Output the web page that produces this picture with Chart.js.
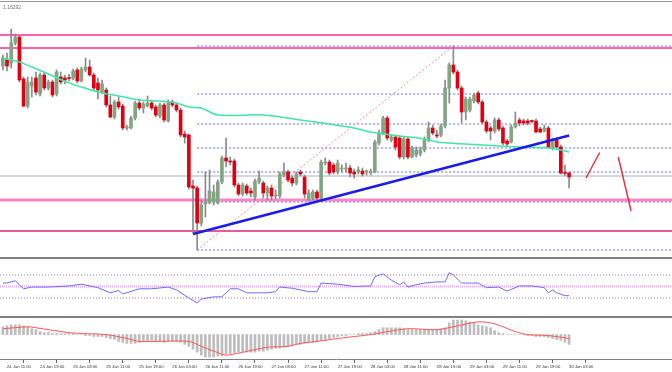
<!DOCTYPE html>
<html>
<head>
<meta charset="utf-8">
<script src="https://cdn.jsdelivr.net/npm/chart.js@4/dist/chart.umd.min.js"></script>
<style>
  html, body { margin: 0; padding: 0; background: #fff; }
  #wrap { position: relative; width: 672px; height: 372px; overflow: hidden; }
  .pane { position: absolute; left: 0; width: 672px; }
  .sep { position: absolute; left: 0; width: 672px; background: #7f7f7f; }
  #title { position: absolute; left: 3px; top: 4px; font: 5px "Liberation Sans", Arial, sans-serif; color: #777; }
</style>
</head>
<body>
<div id="wrap">
  <div class="sep" style="top:1px;height:1px;background:#999"></div>
  <div class="pane" style="top:2px;height:255px"><canvas id="main"></canvas></div>
  <div class="sep" style="top:257px;height:2px"></div>
  <div class="pane" style="top:259px;height:57px"><canvas id="rsi"></canvas></div>
  <div class="sep" style="top:316px;height:2px"></div>
  <div class="pane" style="top:318px;height:52px"><canvas id="macd"></canvas></div>
  <div id="title">1.16292</div>
</div>
<script>
// H1 candles, bar 0 = 24 Jan 10:00 ... bar 137 = 30 Jan 03:00
const open = [
  1.1584,1.1590,1.1587,1.1607,1.1613,1.1571,1.1544,1.1564,1.1572,1.1556,
  1.1575,1.1562,1.1568,1.1556,1.1573,1.1572,1.1572,1.1572,1.1580,1.1569,
  1.1580,1.1583,1.1575,1.1567,1.1558,1.1560,1.1545,1.1533,1.1548,1.1544,
  1.1522,1.1522,1.1532,1.1547,1.1542,1.1544,1.1547,1.1543,1.1534,1.1545,
  1.1529,1.1548,1.1545,1.1540,1.1516,1.1515,1.1464,1.1462,1.1427,1.1446,
  1.1447,1.1448,1.1447,1.1468,1.1492,1.1489,1.1489,1.1465,1.1456,1.1464,
  1.1459,1.1453,1.1468,1.1467,1.1457,1.1462,1.1454,1.1454,1.1475,1.1478,
  1.1472,1.1467,1.1478,1.1473,1.1450,1.1452,1.1458,1.1452,1.1487,1.1488,
  1.1485,1.1478,1.1481,1.1481,1.1482,1.1478,1.1478,1.1479,1.1478,1.1477,
  1.1478,1.1507,1.1517,1.1532,1.1510,1.1513,1.1512,1.1493,1.1511,1.1493,
  1.1495,1.1496,1.1500,1.1510,1.1522,1.1515,1.1515,1.1524,1.1562,1.1585,
  1.1578,1.1562,1.1538,1.1540,1.1549,1.1557,1.1548,1.1528,1.1522,1.1519,
  1.1530,1.1522,1.1509,1.1508,1.1523,1.1530,1.1529,1.1529,1.1529,1.1529,
  1.1521,1.1519,1.1522,1.1502,1.1510,1.1503,1.1477,1.1477
];
const high = [
  1.1595,1.1597,1.1621,1.1616,1.1614,1.1573,1.1573,1.1573,1.1578,1.1577,
  1.1578,1.1570,1.1570,1.1580,1.1578,1.1575,1.1576,1.1581,1.1582,1.1583,
  1.1592,1.1590,1.1577,1.1572,1.1570,1.1562,1.1554,1.1550,1.1553,1.1546,
  1.1525,1.1534,1.1549,1.1551,1.1548,1.1554,1.1550,1.1545,1.1547,1.1547,
  1.1550,1.1550,1.1547,1.1542,1.1519,1.1516,1.1470,1.1464,1.1450,1.1478,
  1.1480,1.1465,1.1470,1.1494,1.1512,1.1493,1.1491,1.1467,1.1467,1.1466,
  1.1462,1.1471,1.1479,1.1469,1.1464,1.1465,1.1460,1.1478,1.1487,1.1480,
  1.1474,1.1478,1.1480,1.1475,1.1460,1.1460,1.1460,1.1490,1.1492,1.1490,
  1.1487,1.1490,1.1485,1.1487,1.1485,1.1481,1.1483,1.1482,1.1480,1.1481,
  1.1510,1.1520,1.1534,1.1534,1.1515,1.1515,1.1514,1.1513,1.1513,1.1504,
  1.1503,1.1503,1.1513,1.1528,1.1525,1.1520,1.1526,1.1570,1.1587,1.1604,
  1.1580,1.1564,1.1553,1.1553,1.1557,1.1559,1.1550,1.1530,1.1524,1.1532,
  1.1532,1.1524,1.1511,1.1525,1.1538,1.1532,1.1531,1.1531,1.1530,1.1531,
  1.1523,1.1525,1.1524,1.1512,1.1512,1.1505,1.1485,1.1478
];
const low = [
  1.1580,1.1579,1.1582,1.1605,1.1568,1.1543,1.1542,1.1553,1.1555,1.1554,
  1.1560,1.1560,1.1553,1.1554,1.1566,1.1566,1.1569,1.1570,1.1567,1.1568,
  1.1578,1.1574,1.1560,1.1551,1.1556,1.1543,1.1532,1.1531,1.1541,1.1520,
  1.1520,1.1521,1.1530,1.1540,1.1537,1.1543,1.1540,1.1533,1.1532,1.1528,
  1.1528,1.1543,1.1538,1.1513,1.1507,1.1461,1.1417,1.1400,1.1424,1.1433,
  1.1446,1.1445,1.1446,1.1466,1.1483,1.1485,1.1463,1.1454,1.1454,1.1455,
  1.1453,1.1450,1.1466,1.1452,1.1450,1.1450,1.1451,1.1452,1.1473,1.1468,
  1.1464,1.1465,1.1474,1.1452,1.1449,1.1450,1.1450,1.1450,1.1485,1.1475,
  1.1476,1.1476,1.1478,1.1478,1.1473,1.1472,1.1476,1.1474,1.1475,1.1475,
  1.1477,1.1505,1.1515,1.1510,1.1508,1.1500,1.1491,1.1491,1.1491,1.1492,
  1.1493,1.1494,1.1498,1.1508,1.1515,1.1512,1.1513,1.1522,1.1547,1.1576,
  1.1560,1.1527,1.1530,1.1538,1.1547,1.1546,1.1526,1.1517,1.1510,1.1517,
  1.1519,1.1505,1.1504,1.1507,1.1522,1.1524,1.1525,1.1525,1.1527,1.1517,
  1.1517,1.1518,1.1502,1.1500,1.1502,1.1476,1.1474,1.1462
];
const close = [
  1.1592,1.1584,1.1607,1.1613,1.1570,1.1544,1.1568,1.1568,1.1558,1.1575,
  1.1562,1.1568,1.1555,1.1578,1.1568,1.1570,1.15715,1.1579,1.1569,1.1581,
  1.1583,1.1575,1.1562,1.1560,1.1566,1.1545,1.1533,1.1548,1.1543,1.1522,
  1.1523,1.1532,1.1547,1.1542,1.1546,1.1547,1.1542,1.1535,1.1545,1.1530,
  1.1548,1.1545,1.1540,1.1515,1.1513,1.1463,1.1462,1.1427,1.1445,1.1448,
  1.1459,1.1458,1.1468,1.1492,1.1489,1.1488,1.1465,1.1456,1.1465,1.1457,
  1.1457,1.1469,1.1472,1.1457,1.1462,1.1454,1.1455,1.1476,1.1478,1.1470,
  1.1467,1.1476,1.1476,1.1456,1.1457,1.1458,1.1452,1.1488,1.1488,1.1477,
  1.1478,1.1487,1.1481,1.1481,1.1477,1.1476,1.1480,1.1476,1.1478,1.1479,
  1.1508,1.1517,1.1532,1.1512,1.1513,1.1503,1.1493,1.1511,1.1493,1.1502,
  1.1500,1.1500,1.1510,1.1522,1.1517,1.1514,1.1524,1.1562,1.1585,1.1578,
  1.1562,1.1538,1.1551,1.1551,1.1555,1.1548,1.1528,1.1519,1.1519,1.1530,
  1.1521,1.1507,1.1506,1.1523,1.1527,1.1527,1.1527,1.1527,1.15285,1.1518,
  1.1518,1.1522,1.1503,1.1510,1.1503,1.1477,1.14765,1.1473
];

// moving average, read at a few bars
const maBars = [0, 4, 7, 11, 16, 19, 23, 28, 33, 38, 42, 45, 48, 52, 63, 72, 79, 85, 89, 96, 102, 105, 120, 127, 132, 135, 137];
const maValues = [1.1592,1.1588,1.1583,1.1576,1.1567,1.1563,1.1558,1.1554,1.1550,1.1549,1.1547,1.1543,1.1542,1.1535,1.1535,1.1530,1.1526,1.1522,1.1518,1.1514,1.1511,1.1508,1.1504,1.1503,1.1502,1.1500,1.1498];

// drawn objects
const resistanceLevels = [1.1615, 1.1602];
const supportZone = 1.1450;
const supportLow = 1.1419;
const lastPriceLevel = 1.1474;
const fibStartBar = 47;
const fibLevels = [1.1604, 1.1556, 1.1526, 1.1502, 1.1478, 1.1448, 1.1400];
const fibDiagonal = [[47, 1.1400], [109, 1.1604]];
const trendLine = [[46, 1.1416], [137, 1.15145]];
const arrowUp = [[141.1, 1.1472], [144.4, 1.14975]];
const arrowDown = [[148.9, 1.1493], [152, 1.1439]];

// RSI
const rsiBars = [0,1,3,5,7,11,16,19,23,26,28,29,33,36,40,42,45,47,48,51,53,55,57,59,64,66,67,70,74,76,77,81,85,89,90,92,94,96,97,98,100,102,105,107,108,109,111,115,117,120,122,125,128,131,132,133,134,136,137];
const rsiValues = [56,56,60,46,49,49,51,54,48,39,43,37,46,46,49,44,30,21.5,28,32,32,46,46,39,39,41,49,47,41,41,56,54,50,51,67,72,61,53,58,49,53,56,58,58,74,70,56,56,48,49,42,51,51,48,39,44,39,34,34];
const rsiLevels = [70, 50, 30];

// MACD (in pips)
const macdHist = [
  8,9,10,10,10,9,8,6,5,3,
  2,2,1,1,1,1,1,1,0,0,
  -1,-1,-2,-2,-2,-3,-4,-5,-7,-8,
  -9,-9,-9,-8,-7,-7,-6,-7,-7,-8,
  -7,-7,-7,-8,-10,-12,-15,-18,-21,-23,
  -23,-23,-22,-22,-20,-20,-19,-18,-18,-18,
  -18,-18,-17,-17,-16,-15,-14,-14,-13,-12,
  -11,-10,-10,-9,-8,-8,-7,-6,-5,-4,
  -3,-2,-1,-1,0,0,1,1,1,2,
  3,5,7,7,7,7,7,6,5,5,
  5,5,5,5,5,5,6,7,12,15,
  15,15,14,13,12,10,9,8,7,4,
  2,1,0,0,0,0,0,-1,-1,-2,
  -2,-2,-3,-4,-5,-6,-8,-10
];
const signalBars = [0,6,8,16,20,25,30,33,37,45,48,51,54,57,64,69,72,76,81,85,89,93,98,105,109,115,119,124,127,132,137];
const signalValues = [6,8,7,2,1,0,-4,-7,-7,-7,-12,-17,-21,-19,-13,-12,-9,-7,-4,-2,0,3,6,5,8,13,11,3,0,-1,-4];

const tickBars = [1, 9, 17, 25, 33, 41, 49, 57, 65, 73, 81, 89, 97, 105, 113, 121, 129, 137];
const tickLabels = ['24 Jan 11:00','24 Jan 19:00','25 Jan 03:00','25 Jan 11:00','25 Jan 19:00','26 Jan 03:00',
  '26 Jan 11:00','26 Jan 19:00','27 Jan 03:00','27 Jan 11:00','27 Jan 19:00','28 Jan 03:00',
  '28 Jan 11:00','28 Jan 19:00','29 Jan 03:00','29 Jan 11:00','29 Jan 19:00','30 Jan 03:00'];

const X_MIN = -0.7, X_MAX = 161.9;

function seg(points, color, width, dash, order) {
  return {
    type: 'line',
    data: points.map(p => ({ x: p[0], y: p[1] })),
    borderColor: color, borderWidth: width, borderDash: dash || [],
    pointRadius: 0, fill: false, order: order
  };
}
function hLine(y, x0, color, width, dash, order) {
  return seg([[x0, y], [X_MAX, y]], color, width, dash, order);
}

const baseOpts = (yMin, yMax, xAxis) => ({
  responsive: true,
  maintainAspectRatio: false,
  animation: false,
  layout: { padding: 0 },
  plugins: { legend: { display: false }, tooltip: { enabled: false } },
  scales: {
    x: xAxis || { type: 'linear', min: X_MIN, max: X_MAX, offset: false, display: false },
    y: { min: yMin, max: yMax, display: false }
  }
});

const bars = open.map((_, i) => i);
const bull = i => close[i] >= open[i];

const mainSets = [
  seg(trendLine, '#1c1ce8', 2.5, [], 0),
  seg(arrowUp, '#ee3340', 1.5, [], 0),
  seg(arrowDown, '#ee3340', 1.5, [], 0),
  {
    type: 'line',
    data: maBars.map((b, k) => ({ x: b, y: maValues[k] })),
    borderColor: '#3fe6a8', borderWidth: 1.5, pointRadius: 0, tension: 0.3, order: 1
  },
  {
    type: 'bar',
    data: bars.map(i => ({ x: i, y: [open[i], close[i]] })),
    backgroundColor: bars.map(i => bull(i) ? '#84a584' : '#e00012'),
    borderColor: bars.map(i => bull(i) ? '#5c735c' : '#8a2020'),
    borderWidth: 0, barThickness: 3, minBarLength: 1, grouped: false, order: 2
  },
  {
    type: 'bar',
    data: bars.map(i => ({ x: i, y: [low[i], high[i]] })),
    backgroundColor: '#8a8a8a', barThickness: 1, grouped: false, order: 3
  },
  seg(fibDiagonal, '#ff8c8c', 1, [2, 2], 4),
  ...fibLevels.map(v => hLine(v, fibStartBar, '#6b6bff', 1, [2, 2], 5)),
  ...resistanceLevels.map(v => hLine(v, X_MIN, '#ff2d96', 1.5, [], 5)),
  hLine(supportZone, X_MIN, '#ff86c6', 3, [], 6),
  hLine(supportLow, X_MIN, '#e0207c', 1.5, [], 5),
  hLine(lastPriceLevel, X_MIN, '#aab1c2', 1, [], 6)
];

new Chart(document.getElementById('main'), {
  type: 'bar',
  data: { datasets: mainSets },
  options: baseOpts(1.1393, 1.1648)
});

new Chart(document.getElementById('rsi'), {
  type: 'line',
  data: {
    datasets: [
      {
        data: rsiBars.map((b, k) => ({ x: b, y: rsiValues[k] })),
        borderColor: '#6c6cff', borderWidth: 1, pointRadius: 0, order: 0
      },
      hLine(rsiLevels[0], X_MIN, '#b46be6', 1, [1, 2], 1),
      hLine(rsiLevels[1], X_MIN, '#e2abff', 2, [1, 1], 1),
      hLine(rsiLevels[2], X_MIN, '#b46be6', 1, [1, 2], 1)
    ]
  },
  options: baseOpts(-1.3, 97.8)
});

new Chart(document.getElementById('macd'), {
  type: 'bar',
  data: {
    datasets: [
      {
        type: 'line',
        data: signalBars.map((b, k) => ({ x: b, y: signalValues[k] })),
        borderColor: '#ff5555', borderWidth: 1, pointRadius: 0, tension: 0.3, order: 0
      },
      {
        type: 'bar',
        data: bars.map(i => ({ x: i, y: macdHist[i] })),
        backgroundColor: '#bdbdbd', barThickness: 2, grouped: false, order: 1
      }
    ]
  },
  options: baseOpts(-26, 17, {
    type: 'linear', min: X_MIN, max: X_MAX, offset: false,
    afterBuildTicks: s => { s.ticks = tickBars.map(v => ({ value: v })); },
    grid: { drawOnChartArea: false, drawTicks: true, tickLength: 3, color: '#666' },
    border: { display: true, color: '#808080' },
    ticks: {
      autoSkip: false, maxRotation: 0, align: 'start', padding: 1, color: '#333',
      font: { size: 4.2, family: 'Liberation Sans' },
      callback: (v, k) => tickLabels[k]
    }
  })
});
</script>
</body>
</html>
